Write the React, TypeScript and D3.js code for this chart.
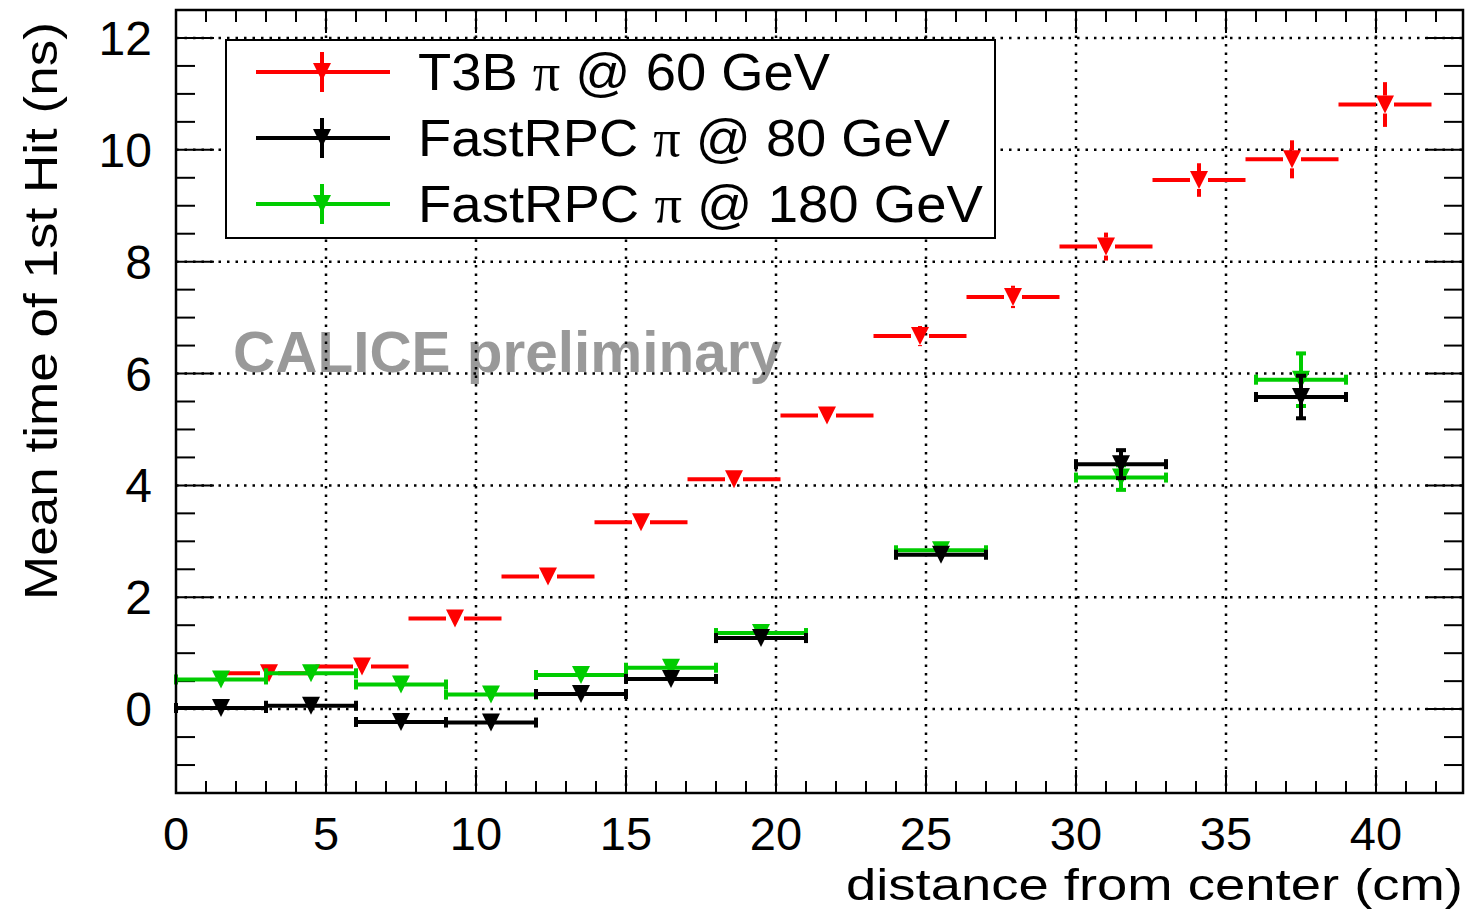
import React, { useEffect, useRef } from 'react';
import * as d3 from 'd3';

// T3B pi @ 60 GeV
const t3bX = [3.1, 6.2, 9.3, 12.4, 15.5, 18.6, 21.7, 24.8, 27.9, 31.0, 34.1, 37.2, 40.3];
const t3bY = [0.64, 0.76, 1.62, 2.37, 3.34, 4.11, 5.25, 6.67, 7.37, 8.27, 9.46, 9.83, 10.81];
const t3bErr = [0.04, 0.04, 0.05, 0.06, 0.07, 0.08, 0.1, 0.18, 0.2, 0.25, 0.3, 0.34, 0.4];
const t3bHalf = 1.55;

// FastRPC bins (80 and 180 GeV share the x positions)
const rpcX = [1.5, 4.5, 7.5, 10.5, 13.5, 16.5, 19.5, 25.5, 31.5, 37.5];
const rpc80Y = [0.02, 0.06, -0.23, -0.24, 0.27, 0.54, 1.27, 2.76, 4.38, 5.58];
const rpc80Err = [0.03, 0.03, 0.04, 0.04, 0.05, 0.06, 0.08, 0.12, 0.25, 0.38];
const rpc180Y = [0.53, 0.64, 0.44, 0.26, 0.61, 0.74, 1.36, 2.84, 4.14, 5.89];
const rpc180Err = [0.03, 0.03, 0.04, 0.04, 0.05, 0.06, 0.08, 0.12, 0.22, 0.47];
const rpcHalf = 1.5;

const xTicks = [0, 5, 10, 15, 20, 25, 30, 35, 40];
const yTicks = [0, 2, 4, 6, 8, 10, 12];

const legendItems = [
  { pre: 'T3B ', post: ' @ 60 GeV', color: '#ff0000', len: 412 },
  { pre: 'FastRPC ', post: ' @ 80 GeV', color: '#000000', len: 532 },
  { pre: 'FastRPC ', post: ' @ 180 GeV', color: '#00cc00', len: 565 }
];

const FONT = '"Liberation Sans", Arial, Helvetica, sans-serif';
const SERIF = '"Liberation Serif", "DejaVu Serif", serif';

const App = () => {
  const svgRef = useRef(null);

  useEffect(() => {
    document.body.style.margin = '0';
    const svg = d3.select(svgRef.current);
    svg.selectAll('*').remove();

    const left = 176, right = 1463, top = 10, bottom = 793;
    const x = d3.scaleLinear().domain([0, 42.9]).range([left, right]);
    const y = d3.scaleLinear().domain([-1.5, 12.5]).range([bottom, top]);

    // watermark (grid is drawn over it)
    svg.append('text')
      .attr('x', 233).attr('y', 372)
      .attr('font-family', FONT).attr('font-weight', 'bold')
      .attr('font-size', 58).attr('fill', '#999999')
      .attr('textLength', 549).attr('lengthAdjust', 'spacingAndGlyphs')
      .text('CALICE preliminary');

    // grid
    const grid = svg.append('g')
      .attr('stroke', '#000').attr('stroke-width', 2.5)
      .attr('stroke-dasharray', '2.5,6');
    grid.selectAll('.gx').data(xTicks.filter(d => d > 0)).enter().append('line')
      .attr('x1', d => x(d)).attr('x2', d => x(d))
      .attr('y1', top).attr('y2', bottom);
    grid.selectAll('.gy').data(yTicks).enter().append('line')
      .attr('y1', d => y(d)).attr('y2', d => y(d))
      .attr('x1', left).attr('x2', right);

    // ticks
    const ticks = svg.append('g').attr('stroke', '#000').attr('stroke-width', 2);
    const xMinor = d3.range(0, 43, 1);
    xMinor.forEach(v => {
      const len = v % 5 === 0 ? 23 : 12;
      ticks.append('line').attr('x1', x(v)).attr('x2', x(v)).attr('y1', bottom).attr('y2', bottom - len);
      ticks.append('line').attr('x1', x(v)).attr('x2', x(v)).attr('y1', top).attr('y2', top + len);
    });
    const yMinor = d3.range(-1.5, 12.51, 0.5);
    yMinor.forEach(v => {
      const len = Math.abs(v % 2) < 1e-6 ? 38 : 19;
      ticks.append('line').attr('y1', y(v)).attr('y2', y(v)).attr('x1', left).attr('x2', left + len);
      ticks.append('line').attr('y1', y(v)).attr('y2', y(v)).attr('x1', right).attr('x2', right - len);
    });

    const tri = (cx, cy, s = 18) =>
      `M${cx - s / 2},${cy - s / 2}L${cx + s / 2},${cy - s / 2}L${cx},${cy + s / 2}Z`;
    const H = 9; // marker half size

    // red series: bars with gaps around marker, no caps
    const red = svg.append('g');
    t3bX.forEach((xv, i) => {
      const cx = x(xv), cy = y(t3bY[i]);
      const g = red.append('g').attr('stroke', '#ff0000').attr('stroke-width', 4);
      g.append('line').attr('x1', x(xv - t3bHalf)).attr('x2', cx - H).attr('y1', cy).attr('y2', cy);
      g.append('line').attr('x1', cx + H).attr('x2', x(xv + t3bHalf)).attr('y1', cy).attr('y2', cy);
      const ey = Math.abs(y(t3bErr[i]) - y(0));
      if (ey > H) {
        g.append('line').attr('x1', cx).attr('x2', cx).attr('y1', cy - ey).attr('y2', cy - H);
        g.append('line').attr('x1', cx).attr('x2', cx).attr('y1', cy + H).attr('y2', cy + ey);
      }
      red.append('path').attr('d', tri(cx, cy)).attr('fill', '#ff0000');
    });

    // FastRPC series with end caps
    const drawRpc = (vals, errs, color) => {
      const grp = svg.append('g');
      rpcX.forEach((xv, i) => {
        const cx = x(xv), cy = y(vals[i]);
        const x0 = x(xv - rpcHalf), x1 = x(xv + rpcHalf);
        const g = grp.append('g').attr('stroke', color).attr('stroke-width', 4);
        g.append('line').attr('x1', x0).attr('x2', x1).attr('y1', cy).attr('y2', cy);
        g.append('line').attr('x1', x0).attr('x2', x0).attr('y1', cy - 5).attr('y2', cy + 5);
        g.append('line').attr('x1', x1).attr('x2', x1).attr('y1', cy - 5).attr('y2', cy + 5);
        const ey = Math.abs(y(errs[i]) - y(0));
        if (ey > H) {
          g.append('line').attr('x1', cx).attr('x2', cx).attr('y1', cy - ey).attr('y2', cy + ey);
          g.append('line').attr('x1', cx - 5).attr('x2', cx + 5).attr('y1', cy - ey).attr('y2', cy - ey);
          g.append('line').attr('x1', cx - 5).attr('x2', cx + 5).attr('y1', cy + ey).attr('y2', cy + ey);
        }
        grp.append('path').attr('d', tri(cx, cy)).attr('fill', color);
      });
    };
    drawRpc(rpc180Y, rpc180Err, '#00cc00');
    drawRpc(rpc80Y, rpc80Err, '#000000');

    // frame
    svg.append('rect')
      .attr('x', left).attr('y', top).attr('width', right - left).attr('height', bottom - top)
      .attr('fill', 'none').attr('stroke', '#000').attr('stroke-width', 2.5);

    // tick labels
    svg.selectAll('.xl').data(xTicks).enter().append('text')
      .attr('x', d => x(d)).attr('y', 850)
      .attr('text-anchor', 'middle')
      .attr('font-family', FONT).attr('font-size', 47)
      .text(d => d);
    svg.selectAll('.yl').data(yTicks).enter().append('text')
      .attr('x', 152).attr('y', d => y(d) + 17)
      .attr('text-anchor', 'end')
      .attr('font-family', FONT).attr('font-size', 48)
      .text(d => d);

    // axis titles
    svg.append('text')
      .attr('x', 1463).attr('y', 900).attr('text-anchor', 'end')
      .attr('font-family', FONT).attr('font-size', 45)
      .attr('textLength', 617).attr('lengthAdjust', 'spacingAndGlyphs')
      .text('distance from center (cm)');
    svg.append('text')
      .attr('transform', 'translate(57,600) rotate(-90)')
      .attr('font-family', FONT).attr('font-size', 47)
      .attr('textLength', 578).attr('lengthAdjust', 'spacingAndGlyphs')
      .text('Mean time of 1st Hit (ns)');

    // legend
    const leg = svg.append('g');
    leg.append('rect')
      .attr('x', 226).attr('y', 40).attr('width', 769).attr('height', 198)
      .attr('fill', '#fff').attr('stroke', '#000').attr('stroke-width', 2);
    legendItems.forEach((it, i) => {
      const ry = 72 + i * 66;
      leg.append('line').attr('x1', 256).attr('x2', 390).attr('y1', ry).attr('y2', ry)
        .attr('stroke', it.color).attr('stroke-width', 4);
      leg.append('line').attr('x1', 322).attr('x2', 322).attr('y1', ry - 20).attr('y2', ry + 20)
        .attr('stroke', it.color).attr('stroke-width', 4);
      leg.append('path').attr('d', tri(322, ry)).attr('fill', it.color);
      const t = leg.append('text')
        .attr('x', 418).attr('y', ry + 18)
        .attr('font-family', FONT).attr('font-size', 52)
        .attr('textLength', it.len).attr('lengthAdjust', 'spacingAndGlyphs');
      t.append('tspan').text(it.pre);
      t.append('tspan').attr('font-family', SERIF).text('\u03c0');
      t.append('tspan').text(it.post);
    });
  }, []);

  return <svg ref={svgRef} width="1473" height="910" style={{ display: 'block', background: '#fff' }} />;
};

export default App;
